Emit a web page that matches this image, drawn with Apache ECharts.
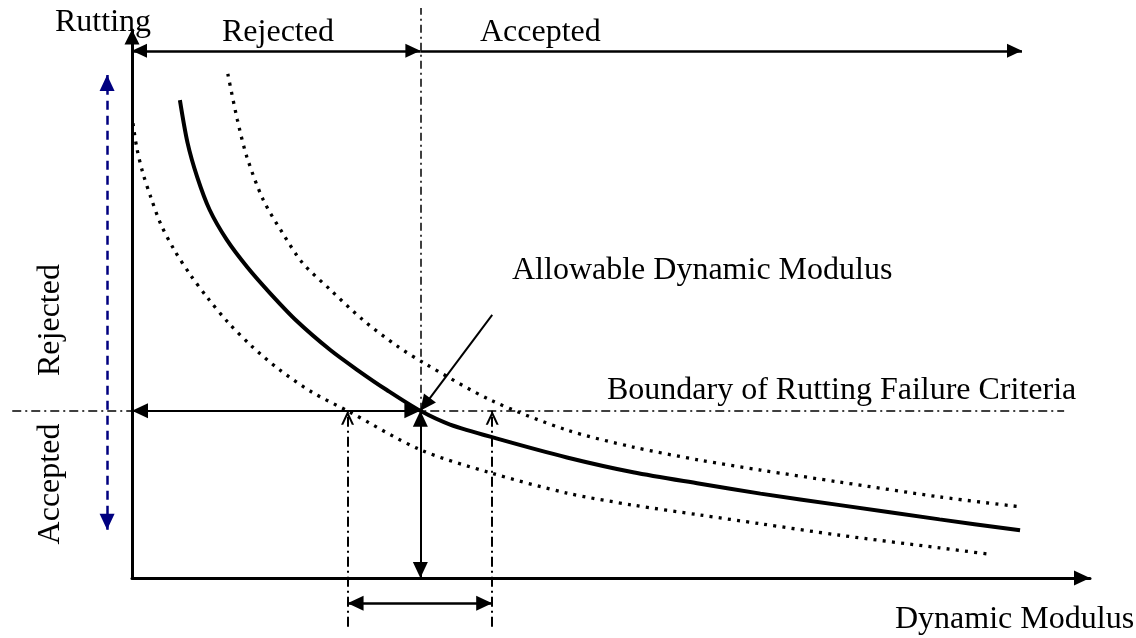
<!DOCTYPE html>
<html>
<head>
<meta charset="utf-8">
<script src="https://cdn.jsdelivr.net/npm/echarts@6/dist/echarts.min.js"></script>
<style>
html,body{margin:0;padding:0;background:#fff;}
#chart{width:1136px;height:638px;}
</style>
</head>
<body>
<div id="chart"></div>
<script>
// ---------- DATA (relative units: Dynamic Modulus 0-100, Rutting 0-100) ----------
// Design (solid) curve
const solidX = [5.0, 5.8, 6.8, 8.1, 9.9, 12.0, 14.4, 17.2, 20.7, 23.5, 26.6, 30.1, 33.2, 38.4, 45.4, 52.3, 59.3, 65.6, 73.9, 84.3, 92.7];
const solidY = [87.2, 79.4, 73.2, 67.2, 61.7, 56.8, 52.0, 46.9, 41.6, 38.0, 34.3, 30.5, 28.0, 25.3, 22.0, 19.3, 17.2, 15.4, 13.3, 10.7, 8.7];
// Upper dotted curve
const upperX = [10.0, 11.0, 12.0, 13.7, 15.7, 17.8, 20.7, 24.1, 27.7, 30.6, 37.4, 45.4, 52.3, 59.3, 65.6, 73.9, 84.3, 92.7];
const upperY = [92.0, 83.6, 76.8, 69.0, 63.0, 57.5, 52.6, 47.1, 42.3, 39.1, 32.5, 27.0, 23.9, 21.5, 19.7, 17.5, 14.8, 13.0];
// Lower dotted curve
const lowerX = [0.1, 0.5, 1.1, 2.0, 3.0, 4.4, 6.1, 7.9, 10.0, 12.5, 15.4, 18.8, 22.5, 30.1, 37.4, 45.4, 52.3, 59.3, 65.6, 73.9, 84.3, 89.2];
const lowerY = [83.0, 78.5, 74.1, 69.3, 64.6, 59.9, 55.3, 51.1, 46.7, 42.3, 38.0, 33.9, 30.5, 23.4, 19.2, 15.5, 13.3, 11.5, 9.9, 7.8, 5.5, 4.4];

// Key annotation values
const boundaryRutting = 30.5;     // boundary of rutting failure criteria
const allowableModulus = 30.1;    // allowable dynamic modulus
const rangeModulus = [22.5, 37.6];// modulus range from dotted bounds
const topArrowLevel = 96.2;       // Rejected / Accepted arrows (x direction)
const topArrowEnd = 92.9;
const pointerStart = [37.6, 48.0];
const sideArrowX = -2.6;          // blue Rejected / Accepted arrow (y direction)
const sideArrowRange = [8.8, 91.8];
const boundaryExtent = [-12.5, 97.3];
const verticalTop = 104.0;
const lowerDrop = -8.9;
const rangeArrowLevel = -4.6;

// Texts
const labels = {
  yName: 'Rutting',
  xName: 'Dynamic Modulus',
  rejected: 'Rejected',
  accepted: 'Accepted',
  allowable: 'Allowable Dynamic Modulus',
  boundary: 'Boundary of Rutting Failure Criteria'
};

// ---------- LAYOUT ----------
const W = 1136, H = 638;
const G = {left: 132, right: 46, top: 30, bottom: 60};
const pxPerX = (W - G.left - G.right) / 100;
const pxPerY = (H - G.top - G.bottom) / 100;
const fullXMin = -G.left / pxPerX, fullXMax = 100 + G.right / pxPerX;
const fullYMin = -G.bottom / pxPerY, fullYMax = 100 + G.top / pxPerY;

const FONT = '32px "Liberation Serif", "Times New Roman", serif';
const BLACK = '#000';
const NAVY = '#000080';

function zip(xs, ys) { return xs.map((x, i) => [x, ys[i]]); }

const TRI = 'triangle';
const CHEV = 'path://M5 0 L10 10 L8.3 10 L5 3.4 L1.7 10 L0 10 Z';

function end(coord, sym, size) {
  const o = {coord: coord, symbol: sym || 'none'};
  if (sym && sym !== 'none') {
    o.symbolSize = size;
    o.symbolOffset = [0, size[1] / 2];
  }
  return o;
}
function seg(a, b, s0, s1, size, style) {
  const p0 = end(a, s0, size);
  const p1 = end(b, s1, size);
  p0.lineStyle = style;
  p1.lineStyle = style;
  return [p0, p1];
}

const BIG = [15, 16];
const TOP = [14, 15];

const markLines = [
  seg([0, topArrowLevel], [allowableModulus, topArrowLevel], TRI, TRI, TOP, {color: BLACK, width: 2.5, type: 'solid'}),
  seg([allowableModulus, topArrowLevel], [topArrowEnd, topArrowLevel], 'none', TRI, TOP, {color: BLACK, width: 2.5, type: 'solid'}),
  seg([allowableModulus, boundaryRutting], [allowableModulus, verticalTop], 'none', 'none', TOP, {color: BLACK, width: 1.5, type: [8, 4, 2, 4]}),
  seg([boundaryExtent[0], boundaryRutting], [boundaryExtent[1], boundaryRutting], 'none', 'none', TOP, {color: BLACK, width: 1.5, type: [9, 4, 2, 4]}),
  seg([0, boundaryRutting], [allowableModulus, boundaryRutting], TRI, TRI, BIG, {color: BLACK, width: 2, type: 'solid'}),
  seg([allowableModulus, 0], [allowableModulus, boundaryRutting], TRI, TRI, BIG, {color: BLACK, width: 2, type: 'solid'}),
  seg([rangeModulus[0], lowerDrop], [rangeModulus[0], boundaryRutting], 'none', CHEV, [13, 14], {color: BLACK, width: 2, type: [10, 4, 2, 4]}),
  seg([rangeModulus[1], lowerDrop], [rangeModulus[1], boundaryRutting], 'none', CHEV, [13, 14], {color: BLACK, width: 2, type: [10, 4, 2, 4]}),
  seg([rangeModulus[0], rangeArrowLevel], [rangeModulus[1], rangeArrowLevel], TRI, TRI, BIG, {color: BLACK, width: 2.5, type: 'solid'}),
  seg(pointerStart, [allowableModulus, boundaryRutting], 'none', TRI, BIG, {color: BLACK, width: 2, type: 'solid'}),
  seg([sideArrowX, sideArrowRange[0]], [sideArrowX, sideArrowRange[1]], TRI, TRI, [15, 16], {color: NAVY, width: 2.5, type: [9, 6]})
];

function txt(text, x, y, align, rot) {
  return {
    type: 'text', x: x, y: y, rotation: rot || 0, silent: true, z: 100,
    style: {text: text, font: FONT, fill: BLACK, align: align || 'left', verticalAlign: 'middle',
            textAlign: align || 'left', textVerticalAlign: 'middle'}
  };
}

const dotted = {color: BLACK, width: 3.3, type: [3, 6.2], cap: 'butt'};

const chart = echarts.init(document.getElementById('chart'), null, {renderer: 'canvas'});
chart.setOption({
  animation: false,
  backgroundColor: '#fff',
  grid: [
    {left: G.left, right: G.right, top: G.top, bottom: G.bottom, containLabel: false, outerBoundsMode: 'none'},
    {left: 0, right: 0, top: 0, bottom: 0, containLabel: false, outerBoundsMode: 'none'}
  ],
  xAxis: [
    {type: 'value', gridIndex: 0, min: 0, max: 100,
     axisLine: {show: true, onZero: false, symbol: ['none', 'triangle'], symbolSize: [15, 16], symbolOffset: [0, -8],
                lineStyle: {color: BLACK, width: 3}},
     axisTick: {show: false}, axisLabel: {show: false}, splitLine: {show: false}},
    {type: 'value', gridIndex: 1, min: fullXMin, max: fullXMax, show: false, splitLine: {show: false}}
  ],
  yAxis: [
    {type: 'value', gridIndex: 0, min: 0, max: 100,
     axisLine: {show: true, onZero: false, symbol: ['none', 'triangle'], symbolSize: [15, 15], symbolOffset: [0, -7],
                lineStyle: {color: BLACK, width: 3}},
     axisTick: {show: false}, axisLabel: {show: false}, splitLine: {show: false}},
    {type: 'value', gridIndex: 1, min: fullYMin, max: fullYMax, show: false, splitLine: {show: false}}
  ],
  series: [
    {type: 'line', name: 'design', xAxisIndex: 0, yAxisIndex: 0, data: zip(solidX, solidY), smooth: 0.3,
     showSymbol: false, symbol: 'none', silent: true, lineStyle: {color: BLACK, width: 4}},
    {type: 'line', name: 'upper', xAxisIndex: 0, yAxisIndex: 0, data: zip(upperX, upperY), smooth: 0.3,
     showSymbol: false, symbol: 'none', silent: true, lineStyle: dotted},
    {type: 'line', name: 'lower', xAxisIndex: 0, yAxisIndex: 0, data: zip(lowerX, lowerY), smooth: 0.3,
     showSymbol: false, symbol: 'none', silent: true, lineStyle: dotted},
    {type: 'line', name: 'annotations', xAxisIndex: 1, yAxisIndex: 1, data: [], silent: true,
     markLine: {silent: true, animation: false, label: {show: false}, emphasis: {disabled: true},
                symbol: 'none', data: markLines}}
  ],
  graphic: [
    txt(labels.yName, 55, 23),
    txt(labels.rejected, 222, 33),
    txt(labels.accepted, 480, 33),
    txt(labels.allowable, 512, 271),
    txt(labels.boundary, 607, 391),
    txt(labels.xName, 895, 620),
    txt(labels.rejected, 51, 320, 'center', Math.PI / 2),
    txt(labels.accepted, 51, 484, 'center', Math.PI / 2)
  ]
});
</script>
</body>
</html>
